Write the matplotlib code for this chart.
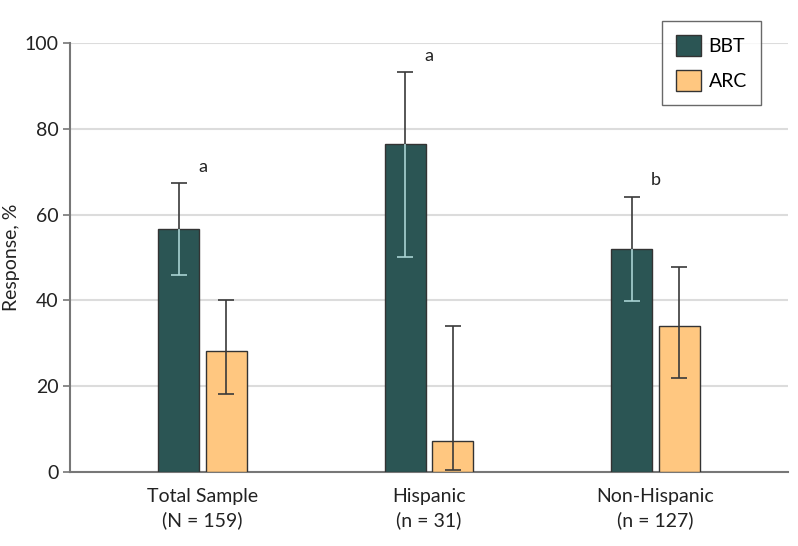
import matplotlib
matplotlib.use("Agg")
import matplotlib.pyplot as plt
import numpy as np
from matplotlib.patches import Patch

plt.rcParams['font.family'] = ['Lato', 'DejaVu Sans']

categories = ["Total Sample\n(N = 159)", "Hispanic\n(n = 31)", "Non-Hispanic\n(n = 127)"]
bbt = [56.7, 76.6, 52.1]
bbt_lo = [45.8, 50.0, 39.9]
bbt_hi = [67.3, 93.2, 64.1]
arc = [28.2, 7.1, 34.0]
arc_lo = [18.1, 0.3, 21.8]
arc_hi = [40.0, 34.0, 47.8]
letters = ["a", "a", "b"]

c_bbt = "#2b5554"
c_arc = "#ffc780"
edge = "#333333"
dark = "#3a3a3a"
light = "#a9d3d3"

fig = plt.figure(figsize=(7.98, 5.46), dpi=100)
ax = fig.add_axes([70/798, 1-471.7/546, 718/798, 428.4/546])

x = np.arange(len(categories))
w = 0.181
off = 0.105

ax.bar(x - off, bbt, w, color=c_bbt, edgecolor=edge, linewidth=1.0, zorder=3)
ax.bar(x + off, arc, w, color=c_arc, edgecolor=edge, linewidth=1.0, zorder=3)

ms = 12
lw = 1.2
for i in range(len(x)):
    xb = x[i] - off
    ax.vlines(xb, bbt[i], bbt_hi[i], color=dark, linewidth=lw, zorder=4)
    ax.plot([xb], [bbt_hi[i]], marker='_', ms=ms, mew=lw, color=dark, zorder=4)
    ax.vlines(xb, bbt_lo[i], bbt[i], color=light, linewidth=lw, zorder=4)
    ax.plot([xb], [bbt_lo[i]], marker='_', ms=ms, mew=lw, color=light, zorder=4)
    xa = x[i] + off
    ax.vlines(xa, arc_lo[i], arc_hi[i], color=dark, linewidth=lw, zorder=4)
    ax.plot([xa, xa], [arc_lo[i], arc_hi[i]], marker='_', ls='none', ms=ms, mew=lw,
            color=dark, zorder=4)
    ax.text(x[i], bbt_hi[i] + 3.9, letters[i], ha='center', va='center',
            fontsize=13, color='#222222', zorder=5)

ax.set_xlim(-0.585, 2.585)
ax.set_ylim(0, 100)
ax.set_yticks([0, 20, 40, 60, 80, 100])
ax.set_xticks(x)
ax.set_xticklabels(categories, fontsize=14, color='#222222', linespacing=1.4)
ax.tick_params(axis='x', length=0, pad=12)
ax.tick_params(axis='y', length=5, width=1.2, color='#777777', labelsize=14,
               labelcolor='#222222', pad=3)
ax.yaxis.grid(True, color='#dcdcdc', linewidth=1.5, zorder=0)
ax.set_axisbelow(True)
for s in ['top', 'right']:
    ax.spines[s].set_visible(False)
for s in ['left', 'bottom']:
    ax.spines[s].set_color('#777777')
    ax.spines[s].set_linewidth(1.5)
ax.set_ylabel("Response, %", fontsize=14, color='#222222')
ax.yaxis.set_label_coords(-0.069, 0.5)

handles = [Patch(facecolor=c_bbt, edgecolor=edge, label="BBT"),
           Patch(facecolor=c_arc, edgecolor=edge, label="ARC")]
leg = ax.legend(handles=handles, loc='upper right', bbox_to_anchor=(0.962, 1.052),
                borderaxespad=0, fontsize=14, frameon=True, fancybox=False,
                handlelength=1.25, handleheight=1.25, handletextpad=0.4,
                labelspacing=0.75, borderpad=0.72)
leg.get_frame().set_edgecolor('#444444')
leg.get_frame().set_linewidth(1.0)

fig.savefig("out.png", dpi=100)
